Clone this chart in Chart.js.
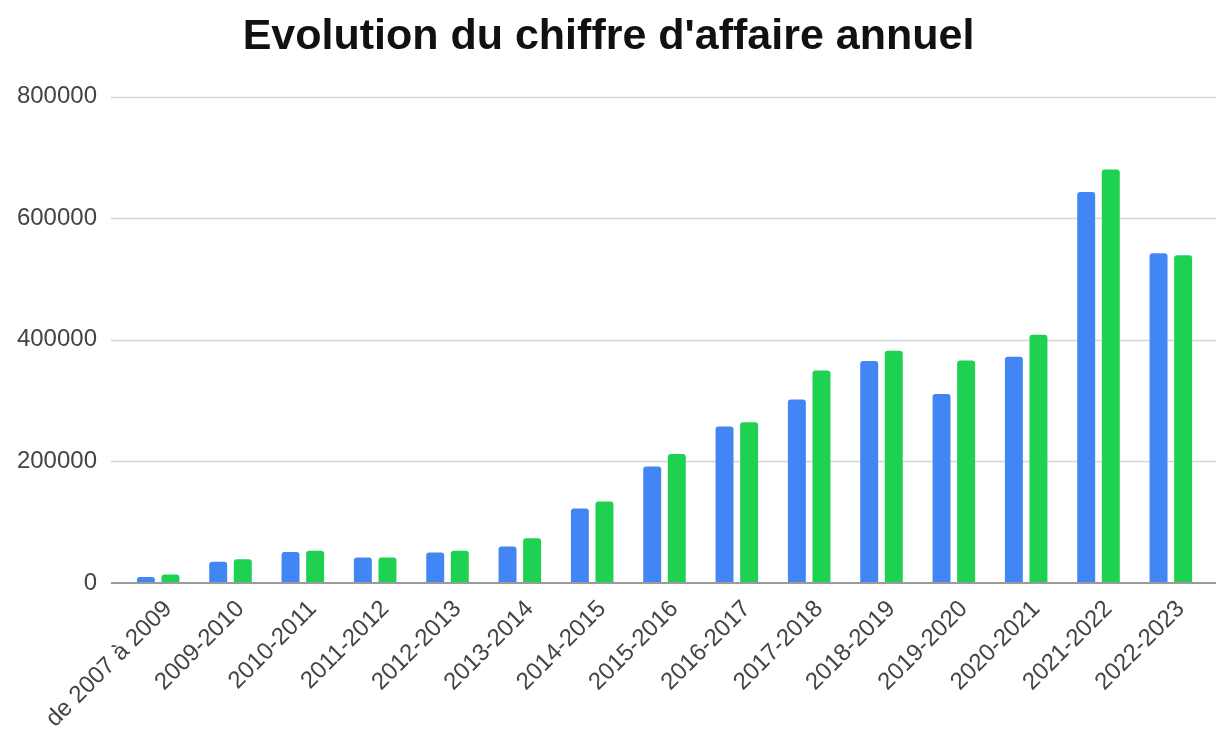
<!DOCTYPE html>
<html lang="fr">
<head>
<meta charset="utf-8">
<title>Evolution du chiffre d'affaire annuel</title>
<script src="https://cdn.jsdelivr.net/npm/chart.js@4"></script>
<style>
  html, body { margin: 0; padding: 0; background: #fff; overflow: hidden; }
  #wrap { width: 1216px; height: 733px; }
</style>
</head>
<body>
<div id="wrap"><canvas id="chart"></canvas></div>
<script>
const periods = [
  "de 2007 à 2009", "2009-2010", "2010-2011", "2011-2012", "2012-2013",
  "2013-2014", "2014-2015", "2015-2016", "2016-2017", "2017-2018",
  "2018-2019", "2019-2020", "2020-2021", "2021-2022", "2022-2023"
];
const serie1 = [10000, 35000, 51000, 42000, 50000, 60000, 122500, 191500, 257500, 302000, 365000, 311000, 372000, 643000, 542500];
const serie2 = [14000, 39000, 53000, 42000, 53000, 73500, 134000, 212000, 264500, 349500, 382000, 366000, 408500, 680000, 539000];
const yTicks = [0, 200000, 400000, 600000, 800000];

const FONT = "'Liberation Sans', Arial, sans-serif";

// google-like gridlines that run a bit past the chart area
const wideGrid = {
  id: "wideGrid",
  beforeDatasetsDraw(chart) {
    const ctx = chart.ctx;
    const y = chart.scales.y;
    ctx.save();
    ctx.strokeStyle = "#d6d6d6";
    ctx.lineWidth = 1.5;
    yTicks.slice(1).forEach((v) => {
      const py = Math.round(y.getPixelForValue(v)) + 0.5;
      ctx.beginPath();
      ctx.moveTo(111, py);
      ctx.lineTo(chart.width, py);
      ctx.stroke();
    });
    ctx.restore();
  },
  afterDatasetsDraw(chart) {
    const ctx = chart.ctx;
    const py = chart.scales.y.getPixelForValue(0);
    ctx.save();
    ctx.strokeStyle = "#9a9a9a";
    ctx.lineWidth = 2;
    ctx.beginPath();
    ctx.moveTo(111, py);
    ctx.lineTo(chart.width, py);
    ctx.stroke();
    ctx.restore();
  },
};

new Chart(document.getElementById("chart").getContext("2d"), {
  type: "bar",
  data: {
    labels: periods,
    datasets: [
      {
        label: "Série 1",
        data: serie1,
        backgroundColor: "#4285f4",
        borderRadius: 3,
        borderSkipped: "start",
        categoryPercentage: 0.68,
        barPercentage: 0.73,
      },
      {
        label: "Série 2",
        data: serie2,
        backgroundColor: "#1fd150",
        borderRadius: 3,
        borderSkipped: "start",
        categoryPercentage: 0.68,
        barPercentage: 0.73,
      },
    ],
  },
  options: {
    responsive: true,
    maintainAspectRatio: false,
    animation: false,
    layout: { padding: { left: 10, right: 9, top: 0, bottom: 0 } },
    plugins: {
      legend: { display: false },
      tooltip: { enabled: false },
      title: {
        display: true,
        text: "Evolution du chiffre d'affaire annuel",
        color: "#111",
        font: { family: FONT, size: 43, weight: "bold" },
        padding: { top: 11, bottom: 34 },
      },
    },
    scales: {
      x: {
        grid: { display: false },
        border: { display: false },
        afterFit(scale) { scale.height = 150; },
        ticks: {
          color: "#444",
          font: { family: FONT, size: 24 },
          minRotation: 45,
          maxRotation: 45,
          autoSkip: false,
          padding: 4,
          labelOffset: 10,
        },
      },
      y: {
        min: 0,
        max: 800000,
        afterFit(scale) { scale.width = 112; },
        afterBuildTicks(scale) { scale.ticks = yTicks.map((v) => ({ value: v })); },
        grid: { display: false, drawTicks: false },
        border: { display: false },
        ticks: {
          color: "#444",
          font: { family: FONT, size: 24 },
          padding: 25,
          callback: (v) => String(v),
        },
      },
    },
  },
  plugins: [wideGrid],
});
</script>
</body>
</html>
